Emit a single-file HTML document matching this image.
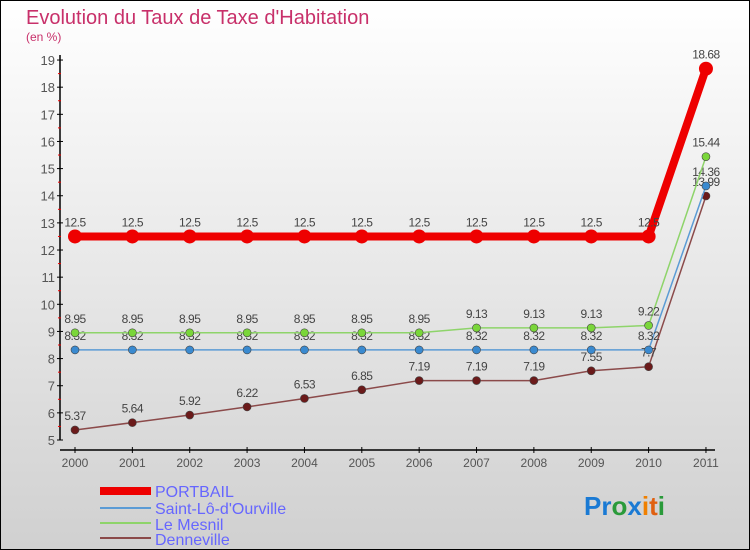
<!DOCTYPE html>
<html><head><meta charset="utf-8"><style>
body{margin:0;width:750px;height:550px;overflow:hidden}
svg{display:block}
text{font-family:"Liberation Sans",sans-serif}
</style></head><body>
<svg width="750" height="550">
<defs><linearGradient id="bg" x1="0" y1="0" x2="0" y2="1"><stop offset="0" stop-color="#ffffff"/><stop offset="1" stop-color="#d0d0d0"/></linearGradient></defs>
<rect x="0.5" y="0.5" width="749" height="549" fill="url(#bg)" stroke="#000"/>
<text x="26" y="24" font-size="20" fill="#c8306a">Evolution du Taux de Taxe d'Habitation</text>
<text x="26" y="41" font-size="12" fill="#c8306a">(en %)</text>
<g id="axes"></g><g id="series"></g>
<g font-size="16" fill="#6666ff">
<rect x="100" y="487" width="51" height="8" fill="#e00"/>
<text x="155" y="497" fill="#6666ff">PORTBAIL</text>
<rect x="100" y="507" width="51" height="2" fill="#5b9bd5"/>
<text x="155" y="514" fill="#6666ff">Saint-Lô-d'Ourville</text>
<rect x="100" y="522" width="51" height="2" fill="#8ed46a"/>
<text x="155" y="530" fill="#6666ff">Le Mesnil</text>
<rect x="100" y="537" width="51" height="2" fill="#8b4a4a"/>
<text x="155" y="545" fill="#6666ff">Denneville</text>
</g>
<g font-size="26" font-weight="bold">
<text x="584" y="515"><tspan fill="#1a7ad4">Pr</tspan><tspan fill="#2a9a3a">o</tspan><tspan fill="#1a7ad4">x</tspan><tspan fill="#f08000">i</tspan><tspan fill="#e06010">t</tspan><tspan fill="#2a9a3a">i</tspan></text>
</g>
</svg>
<script>
const years=[2000,2001,2002,2003,2004,2005,2006,2007,2008,2009,2010,2011];
const portbail=[12.5,12.5,12.5,12.5,12.5,12.5,12.5,12.5,12.5,12.5,12.5,18.68];
const saintLo=[8.32,8.32,8.32,8.32,8.32,8.32,8.32,8.32,8.32,8.32,8.32,14.36];
const leMesnil=[8.95,8.95,8.95,8.95,8.95,8.95,8.95,9.13,9.13,9.13,9.22,15.44];
const denneville=[5.37,5.64,5.92,6.22,6.53,6.85,7.19,7.19,7.19,7.55,7.7,13.99];
const yTicks=[5,6,7,8,9,10,11,12,13,14,15,16,17,18,19];
const NS="http://www.w3.org/2000/svg";
function X(i){return 75+i*57.36}
function Y(v){return 440-(v-5)*27.14}
function mk(t,a,p){const e=document.createElementNS(NS,t);for(const k in a)e.setAttribute(k,a[k]);p.appendChild(e);return e}
const ax=document.getElementById('axes');
const yl=mk('line',{x1:60,y1:55,x2:60,y2:440,stroke:'#000','stroke-width':1.5},ax);


const xl=mk('line',{x1:60,y1:450,x2:715,y2:450,stroke:'#000','stroke-width':1.5},ax);


yTicks.forEach(v=>{
 mk('line',{x1:57,y1:Y(v),x2:63,y2:Y(v),stroke:'#000'},ax);
 if(v<19)mk('line',{x1:58,y1:Y(v+0.5),x2:61,y2:Y(v+0.5),stroke:'#e00'},ax);
 const t=mk('text',{x:55,y:Y(v)+5,'font-size':13,fill:'#555','text-anchor':'end'},ax);t.textContent=v;
 
 
});
years.forEach((yr,i)=>{
 mk('line',{x1:X(i),y1:447,x2:X(i),y2:453,stroke:'#000'},ax);
 const t=mk('text',{x:X(i),y:467,'font-size':12,fill:'#555','text-anchor':'middle'},ax);t.textContent=yr;
 
 
});
const sg=document.getElementById('series');
function draw(vals,color,w,r,name,fill){
 const g=mk('g',{},sg);
 
 
 mk('polyline',{points:vals.map((v,i)=>X(i)+','+Y(v)).join(' '),fill:'none',stroke:color,'stroke-width':w},g);
 vals.forEach((v,i)=>{
  const c=mk('circle',{cx:X(i),cy:Y(v),r:r,fill:fill,stroke:'#444','stroke-width':r>5?0:0.6},g);
  
  
  const t=mk('text',{x:X(i),y:Y(v)-10,'font-size':12,fill:'#444','text-anchor':'middle','letter-spacing':'-0.5'},g);t.textContent=v;
 });
}
draw(denneville,'#8b4a4a',1.5,4,'series-denneville','#6b1a1a');
draw(saintLo,'#5b9bd5',1.5,4,'series-saint-lo','#3a8ad0');
draw(leMesnil,'#8ed46a',1.5,4,'series-le-mesnil','#7ad63a');
draw(portbail,'#ee0000',8,7,'series-portbail','#ee0000');
</script>
</body></html>
